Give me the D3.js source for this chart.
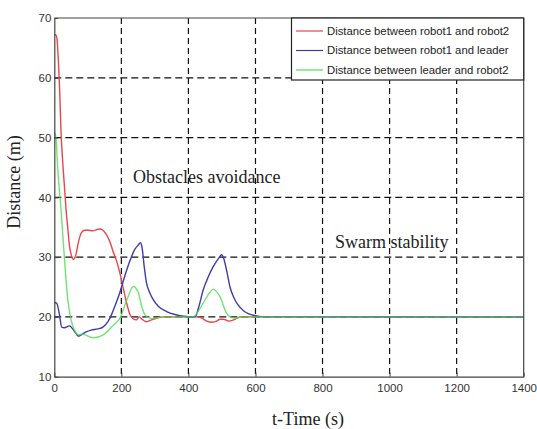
<!DOCTYPE html>
<html>
<head>
<meta charset="utf-8">
<script src="https://cdn.jsdelivr.net/npm/d3@7"></script>
<style>
  body { margin: 0; background: #fff; }
</style>
</head>
<body>
<svg id="chart" width="537" height="429"></svg>
<script>
var tRed  = [0, 4, 8, 12, 16, 20, 25, 30, 35, 40, 45, 50, 57, 65, 72, 80, 90, 100, 115, 135, 145, 155, 165, 175, 185, 195, 205, 215, 225, 235, 245, 253, 262, 275, 290, 310, 330, 430, 440, 455, 470, 480, 495, 505, 520, 535, 555, 600, 1400];
var dRed  = [67.2, 67.2, 66.5, 63, 58, 51, 46, 42, 38, 35, 32, 30.5, 29.6, 30.5, 32.5, 34, 34.5, 34.5, 34.4, 34.7, 34.5, 33.8, 32.7, 31, 29.5, 27.5, 25, 22.5, 20.5, 19.7, 19.5, 20, 19.6, 19.2, 19.5, 19.9, 20, 20, 19.8, 19.3, 19.1, 19.2, 19.6, 19.6, 19.3, 19.5, 20, 20, 20];

var tBlue = [0, 7, 15, 22, 30, 45, 55, 65, 72, 80, 95, 110, 130, 145, 160, 170, 180, 195, 210, 225, 240, 250, 257, 262, 268, 275, 285, 296, 310, 335, 360, 385, 420, 430, 444, 460, 474, 490, 499, 505, 515, 524, 535, 548, 565, 580, 600, 620, 1400];
var dBlue = [22.4, 22.3, 20.5, 18.3, 18.2, 18.5, 18, 17.2, 16.8, 17, 17.5, 17.8, 18, 18.3, 19.2, 20.3, 21.7, 24, 26.8, 29.3, 31.3, 32, 32.4, 31.5, 28.5, 25.7, 24, 22.8, 21.8, 20.9, 20.4, 20.1, 20, 21.5, 24.5, 26.8, 28.4, 29.8, 30.4, 29.8, 27.5, 25, 23.3, 22, 21, 20.5, 20.2, 20.05, 20];

var tGreen = [0, 5, 10, 20, 30, 40, 50, 60, 72, 86, 116, 146, 176, 196, 216, 236, 251, 261, 271, 285, 300, 320, 414, 430, 444, 460, 474, 494, 514, 524, 540, 560, 1400];
var dGreen = [51, 50, 45, 38, 30, 23, 19.5, 17.8, 17, 17.1, 16.5, 17, 18.6, 19.8, 22.8, 25.1, 24, 21.7, 20.3, 19.8, 19.7, 20, 20, 21, 22.3, 23.8, 24.6, 23.4, 20.6, 20, 19.8, 20, 20];

var seriesNames = ["Distance between robot1 and robot2", "Distance between robot1 and leader", "Distance between leader and robot2"];
var seriesColors = ["#e8474a", "#3c3cae", "#50dc50"];

var xTicks = [0, 200, 400, 600, 800, 1000, 1200, 1400];
var yTicks = [10, 20, 30, 40, 50, 60, 70];

var svg = d3.select("#chart");

var plotL = 54.3, plotR = 523.7, plotT = 18, plotB = 376.7;

var x = d3.scaleLinear().domain([0, 1400]).range([plotL, plotR]);
var y = d3.scaleLinear().domain([10, 70]).range([plotB, plotT]);

// dashed grid
svg.append("g").selectAll("line")
  .data(xTicks.slice(1, -1)).enter()
  .append("line")
  .attr("x1", function(d) { return x(d); })
  .attr("x2", function(d) { return x(d); })
  .attr("y1", plotT).attr("y2", plotB)
  .attr("stroke", "#111")
  .attr("stroke-width", 1.2)
  .attr("stroke-dasharray", "6,4");

svg.append("g").selectAll("line")
  .data(yTicks.slice(1, -1)).enter()
  .append("line")
  .attr("y1", function(d) { return y(d); })
  .attr("y2", function(d) { return y(d); })
  .attr("x1", plotL).attr("x2", plotR)
  .attr("stroke", "#111")
  .attr("stroke-width", 1.2)
  .attr("stroke-dasharray", "7,4");

// lines
var line = d3.line()
  .x(function(d) { return x(d[0]); })
  .y(function(d) { return y(d[1]); })
  .curve(d3.curveMonotoneX);

var data = [d3.zip(tRed, dRed), d3.zip(tBlue, dBlue), d3.zip(tGreen, dGreen)];

svg.append("g").selectAll("path")
  .data(data).enter()
  .append("path")
  .attr("d", line)
  .attr("fill", "none")
  .attr("stroke", function(d, i) { return seriesColors[i]; })
  .attr("stroke-opacity", function(d, i) { return i == 2 ? 0.8 : 1; })
  .attr("stroke-width", 1.4);

// axes
var xAxis = d3.axisBottom(x).tickValues(xTicks).tickFormat(d3.format("d"))
  .tickSizeInner(-4).tickSizeOuter(0).tickPadding(7);
var yAxis = d3.axisLeft(y).tickValues(yTicks).tickFormat(d3.format("d"))
  .tickSizeInner(-4).tickSizeOuter(0).tickPadding(3);

var gx = svg.append("g").attr("transform", "translate(0," + plotB + ")").call(xAxis);
var gy = svg.append("g").attr("transform", "translate(" + plotL + ",0)").call(yAxis);

[gx, gy].forEach(function(g) {
  g.select(".domain").attr("stroke", "#444").attr("stroke-width", 1.2);
  g.selectAll(".tick line").attr("stroke", "#444");
  g.selectAll("text")
    .attr("font-family", "Arial, 'Liberation Sans', sans-serif")
    .attr("font-size", 11.5)
    .attr("fill", "#333");
});

// top and right border
svg.append("line").attr("x1", plotL).attr("x2", plotR).attr("y1", plotT).attr("y2", plotT)
  .attr("stroke", "#444").attr("stroke-width", 1.2);
svg.append("line").attr("x1", plotR).attr("x2", plotR).attr("y1", plotT).attr("y2", plotB)
  .attr("stroke", "#444").attr("stroke-width", 1.2);

// legend
var lg = svg.append("g");
lg.append("rect")
  .attr("x", 291.5).attr("y", plotT)
  .attr("width", plotR - 291.5).attr("height", 62)
  .attr("fill", "#fff")
  .attr("stroke", "#222")
  .attr("stroke-width", 1.2);

var rows = lg.selectAll(".legend")
  .data(seriesNames).enter()
  .append("g")
  .attr("class", "legend")
  .attr("transform", function(d, i) { return "translate(0," + (31 + i * 19.5) + ")"; });

rows.append("line")
  .attr("x1", 296).attr("x2", 323)
  .attr("stroke", function(d, i) { return seriesColors[i]; })
  .attr("stroke-width", 1.2);

rows.append("text")
  .attr("x", 327)
  .attr("dy", "0.35em")
  .attr("font-family", "Arial, 'Liberation Sans', sans-serif")
  .attr("font-size", 11.3)
  .attr("fill", "#222")
  .text(function(d) { return d; });

// labels and notes
var serif = "'Liberation Serif', 'Times New Roman', serif";

svg.append("text")
  .attr("transform", "translate(20,182) rotate(-90)")
  .attr("text-anchor", "middle")
  .attr("font-family", serif)
  .attr("font-size", 18)
  .attr("fill", "#222")
  .text("Distance (m)");

svg.append("text")
  .attr("x", 308).attr("y", 425)
  .attr("text-anchor", "middle")
  .attr("font-family", serif)
  .attr("font-size", 18)
  .attr("fill", "#222")
  .text("t-Time (s)");

svg.append("text")
  .attr("x", 133).attr("y", 183)
  .attr("font-family", serif)
  .attr("font-size", 18)
  .attr("fill", "#222")
  .text("Obstacles avoidance");

svg.append("text")
  .attr("x", 335).attr("y", 248)
  .attr("font-family", serif)
  .attr("font-size", 18)
  .attr("fill", "#222")
  .text("Swarm stability");
</script>
</body>
</html>
